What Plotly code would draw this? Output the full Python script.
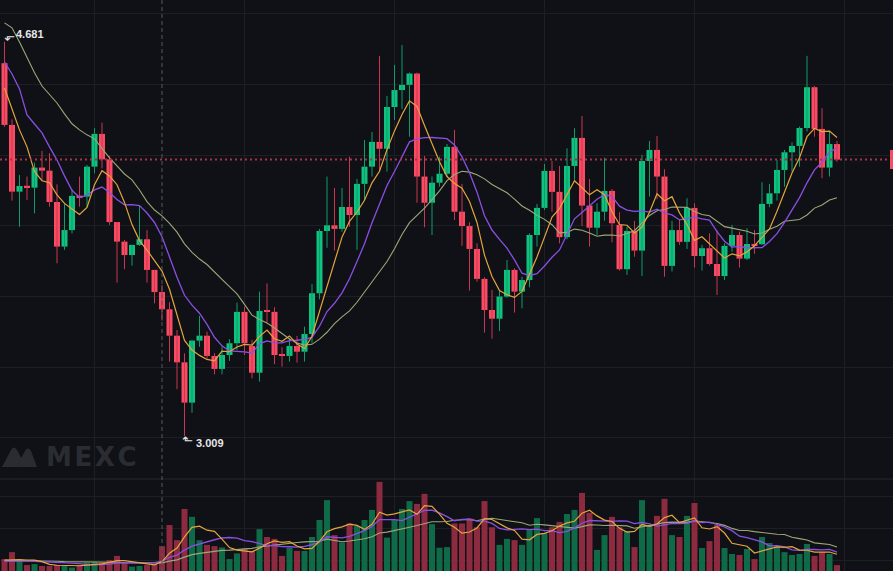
import numpy as np
import pandas as pd
import plotly.graph_objects as go

# ---------------- data ----------------
opens = [4.590, 4.328, 4.045, 4.070, 4.062, 4.147, 4.134, 4.001, 3.812, 3.882,
         4.028, 4.024, 4.151, 4.290, 4.182, 3.916, 3.833, 3.776, 3.819, 3.843,
         3.713, 3.619, 3.546, 3.434, 3.321, 3.150, 3.413, 3.434, 3.348, 3.293,
         3.352, 3.402, 3.535, 3.390, 3.277, 3.541, 3.535, 3.352, 3.348, 3.390,
         3.366, 3.441, 3.614, 3.878, 3.902, 3.887, 3.980, 3.946, 4.078, 4.151,
         4.256, 4.227, 4.404, 4.476, 4.498, 4.546, 4.109, 3.998, 4.083, 4.121,
         4.235, 3.960, 3.899, 3.802, 3.675, 3.543, 3.506, 3.600, 3.713, 3.621,
         3.670, 3.861, 3.976, 4.133, 4.044, 3.852, 4.154, 4.273, 3.986, 3.892,
         3.960, 4.048, 3.904, 3.716, 3.878, 3.795, 4.175, 4.222, 4.109, 3.730,
         3.882, 3.832, 3.976, 3.772, 3.805, 3.738, 3.687, 3.815, 3.861, 3.761,
         3.823, 3.822, 3.993, 4.038, 4.137, 4.212, 4.239, 4.315, 4.488, 4.311,
         4.147, 4.247]
highs = [4.681, 4.352, 4.116, 4.109, 4.168, 4.218, 4.208, 4.076, 3.993, 4.055,
         4.109, 4.158, 4.314, 4.338, 4.196, 3.916, 3.840, 3.820, 3.987, 3.882,
         3.713, 3.649, 3.576, 3.458, 3.359, 3.416, 3.518, 3.451, 3.360, 3.387,
         3.419, 3.574, 3.557, 3.416, 3.621, 3.656, 3.555, 3.385, 3.423, 3.433,
         3.472, 3.653, 3.887, 4.109, 4.061, 4.061, 4.193, 4.099, 4.264, 4.298,
         4.621, 4.451, 4.583, 4.667, 4.550, 4.550, 4.196, 4.109, 4.193, 4.247,
         4.307, 4.078, 3.915, 3.826, 3.682, 3.628, 3.625, 3.755, 3.720, 3.684,
         3.868, 3.993, 4.162, 4.175, 4.154, 4.229, 4.314, 4.366, 4.099, 3.996,
         4.189, 4.056, 3.958, 3.896, 3.921, 4.201, 4.260, 4.281, 4.140, 3.921,
         3.928, 4.017, 3.996, 3.819, 3.868, 3.882, 3.826, 3.904, 3.875, 3.890,
         3.882, 4.085, 4.078, 4.179, 4.222, 4.254, 4.321, 4.621, 4.493, 4.399,
         4.300, 4.260]
lows = [4.320, 4.007, 3.896, 4.010, 3.953, 4.092, 3.981, 3.741, 3.798, 3.868,
        3.981, 3.981, 4.123, 4.144, 3.904, 3.659, 3.716, 3.731, 3.815, 3.659,
        3.571, 3.498, 3.324, 3.207, 3.009, 3.107, 3.387, 3.338, 3.270, 3.270,
        3.327, 3.373, 3.352, 3.253, 3.239, 3.492, 3.313, 3.303, 3.324, 3.320,
        3.324, 3.402, 3.588, 3.807, 3.795, 3.875, 3.896, 3.798, 4.010, 4.109,
        4.137, 4.130, 4.349, 4.396, 4.278, 3.998, 3.894, 3.861, 4.066, 4.109,
        3.925, 3.815, 3.625, 3.663, 3.447, 3.421, 3.454, 3.595, 3.532, 3.550,
        3.639, 3.812, 3.967, 3.960, 3.826, 3.843, 4.095, 3.899, 3.812, 3.861,
        3.922, 3.830, 3.710, 3.692, 3.769, 3.687, 4.024, 4.013, 3.684, 3.706,
        3.819, 3.802, 3.723, 3.710, 3.731, 3.607, 3.670, 3.790, 3.723, 3.755,
        3.781, 3.819, 3.979, 4.007, 4.066, 4.130, 4.151, 4.300, 4.278, 4.102,
        4.109, 4.172]
closes = [4.328, 4.045, 4.069, 4.062, 4.147, 4.134, 4.001, 3.812, 3.882, 4.027,
          4.020, 4.151, 4.290, 4.182, 3.916, 3.833, 3.776, 3.819, 3.843, 3.713,
          3.619, 3.546, 3.434, 3.321, 3.150, 3.413, 3.434, 3.348, 3.293, 3.352,
          3.402, 3.535, 3.402, 3.277, 3.539, 3.535, 3.352, 3.348, 3.390, 3.366,
          3.441, 3.614, 3.878, 3.902, 3.887, 3.980, 3.946, 4.078, 4.151, 4.256,
          4.227, 4.404, 4.476, 4.498, 4.546, 4.109, 3.998, 4.083, 4.121, 4.235,
          3.960, 3.899, 3.802, 3.675, 3.543, 3.506, 3.600, 3.713, 3.621, 3.670,
          3.861, 3.976, 4.133, 4.044, 3.852, 4.154, 4.273, 3.986, 3.892, 3.960,
          4.048, 3.911, 3.716, 3.878, 3.795, 4.175, 4.222, 4.109, 3.730, 3.882,
          3.832, 3.976, 3.772, 3.805, 3.738, 3.687, 3.815, 3.861, 3.761, 3.823,
          3.818, 3.993, 4.038, 4.137, 4.212, 4.239, 4.315, 4.488, 4.311, 4.147,
          4.247, 4.181]
volumes = [103, 125, 98, 84, 87, 81, 81, 84, 84, 76,
           84, 92, 94, 92, 100, 113, 92, 79, 81, 84,
           87, 144, 211, 163, 262, 237, 163, 148, 144, 140,
           103, 121, 137, 129, 198, 173, 167, 113, 139, 129,
           129, 173, 227, 290, 179, 156, 216, 208, 227, 259,
           348, 171, 227, 262, 287, 278, 310, 214, 139, 141,
           216, 216, 232, 204, 287, 204, 148, 167, 163, 148,
           195, 233, 185, 204, 221, 246, 259, 313, 250, 132,
           179, 237, 204, 192, 141, 290, 208, 240, 294, 179,
           173, 240, 281, 138, 160, 211, 138, 119, 116, 135,
           103, 173, 154, 144, 125, 116, 119, 151, 113, 125,
           119, 84]

# moving-average values before enough history is on screen
ma5_head = [4.485, 4.392, 4.307, 4.235]
ma10_head = [4.595, 4.544, 4.481, 4.370, 4.332, 4.294, 4.235, 4.179, 4.112]
ma20_head = [4.761, 4.740, 4.680, 4.616, 4.549, 4.493, 4.455, 4.421, 4.375, 4.333,
             4.307, 4.286, 4.269, 4.226, 4.188, 4.154, 4.120, 4.095, 4.052]
vma5_head = [100, 101, 101, 100]
vma10_head = [96, 97, 98, 97, 96, 95, 95, 94, 93]
vma20_head = [98, 98, 97, 97, 97, 96, 96, 96, 95, 95, 95, 94, 94, 93, 93, 93, 92, 92, 91]

last_price = 4.181
high_label = "4.681"
low_label = "3.009"
high_idx, low_idx = 0, 24
cross_idx = 21

# ---------------- derived ----------------
n = len(closes)
idx = np.arange(n)
o = np.array(opens); h = np.array(highs); l = np.array(lows); c = np.array(closes)
up = c >= o


def ma(series, w, head):
    s = pd.Series(series, dtype=float).rolling(w).mean().to_numpy()
    s[:len(head)] = head
    return s


ma5 = ma(closes, 5, ma5_head)
ma10 = ma(closes, 10, ma10_head)
ma20 = ma(closes, 20, ma20_head)
vma5 = ma(volumes, 5, vma5_head)
vma10 = ma(volumes, 10, vma10_head)
vma20 = ma(volumes, 20, vma20_head)

# ---------------- style ----------------
W, H = 893, 571
BG = "#101116"
GRID = "#1d1f25"
GREEN = "#0fc27f"
RED = "#fb4a64"
GREEN_W = "#0d9d69"
RED_W = "#c8384f"
VGREEN = "#0f6a47"
VRED = "#8c2b40"
C_MA5 = "#e4a53d"
C_MA10 = "#8a4fe3"
C_MA20 = "#9aa877"

sep_frac = 92 / H  # volume pane height

fig = go.Figure()

# wicks
for mask, col in ((up, GREEN_W), (~up, RED_W)):
    xs, ys = [], []
    for i in idx[mask]:
        xs += [i, i, None]
        ys += [l[i], h[i], None]
    fig.add_trace(go.Scatter(x=xs, y=ys, mode="lines", line=dict(color=col, width=1),
                             hoverinfo="skip", showlegend=False, xaxis="x", yaxis="y"))

# bodies
body_base = np.minimum(o, c)
body_h = np.maximum(np.abs(c - o), 0.005)
fig.add_trace(go.Bar(x=idx, y=body_h, base=body_base, width=0.8,
                     marker=dict(color=[GREEN if u else RED for u in up], line=dict(width=0)),
                     showlegend=False, xaxis="x", yaxis="y"))

# price MAs
for s, col, w in ((ma20, C_MA20, 1.1), (ma10, C_MA10, 1.3), (ma5, C_MA5, 1.2)):
    fig.add_trace(go.Scatter(x=idx, y=s, mode="lines", line=dict(color=col, width=w),
                             showlegend=False, xaxis="x", yaxis="y"))

# volume
fig.add_trace(go.Bar(x=idx, y=volumes, width=0.8,
                     marker=dict(color=[VGREEN if u else VRED for u in up], line=dict(width=0)),
                     showlegend=False, xaxis="x2", yaxis="y2"))
for s, col, w in ((vma20, C_MA20, 1.1), (vma10, C_MA10, 1.3), (vma5, C_MA5, 1.2)):
    fig.add_trace(go.Scatter(x=idx, y=s, mode="lines", line=dict(color=col, width=w),
                             showlegend=False, xaxis="x2", yaxis="y2"))

xr = [-0.6, -0.6 + W / 7.5]
axis_common = dict(showticklabels=False, zeroline=False, showline=False,
                   gridcolor=GRID, gridwidth=1, ticks="")

fig.update_layout(
    width=W, height=H,
    margin=dict(l=0, r=0, t=0, b=0),
    paper_bgcolor=BG, plot_bgcolor=BG,
    barmode="overlay", showlegend=False,
    xaxis=dict(domain=[0, 1], range=xr, tick0=12, dtick=20, anchor="y", **axis_common),
    xaxis2=dict(domain=[0, 1], range=xr, tick0=12, dtick=20, anchor="y2", matches="x", **axis_common),
    yaxis=dict(domain=[sep_frac, 1], range=[2.826, 4.858], tick0=3.0, dtick=0.3, anchor="x", **axis_common),
    yaxis2=dict(domain=[0, sep_frac], range=[65.1, 357.1], tick0=0, dtick=100, anchor="x2", **axis_common),
)

shapes = []
# pane separator
shapes.append(dict(type="line", xref="paper", yref="paper", x0=0, x1=1, y0=sep_frac, y1=sep_frac,
                   line=dict(color="#26282e", width=1), layer="above"))
# current price dotted line
shapes.append(dict(type="line", xref="paper", yref="y", x0=0, x1=1, y0=last_price, y1=last_price,
                   line=dict(color="#a83349", width=2, dash="2px,3px"), layer="above"))
# crosshair vertical dashed
shapes.append(dict(type="line", xref="x", yref="paper", x0=cross_idx, x1=cross_idx, y0=0, y1=1,
                   line=dict(color="#55585f", width=1, dash="4px,3px"), layer="above"))
# right edge price tag (cut off)
shapes.append(dict(type="rect", xref="paper", yref="y", x0=890 / W, x1=1.0, y0=4.141, y1=4.222,
                   fillcolor=RED, line=dict(width=0), layer="above"))


# MEXC watermark logo
def P(x, y):
    return f"{x / W:.5f},{1 - y / H:.5f}"


logo_col = "#2a2c32"
left_peak = f"M{P(2, 467)} L{P(11, 450)} Q{P(14, 445)} {P(17, 450)} L{P(26, 467)} Z"
right_peak = f"M{P(16, 467)} L{P(25, 451)} Q{P(28, 446)} {P(31, 451)} L{P(37, 467)} Z"
for p in (left_peak, right_peak):
    shapes.append(dict(type="path", xref="paper", yref="paper", path=p,
                       fillcolor=logo_col, line=dict(width=0), layer="below"))
fig.update_layout(shapes=shapes)

ann_font = dict(family="Liberation Sans, Arial, sans-serif", size=11, color="#e6e6e6", weight="bold")
glyph_font = dict(family="DejaVu Sans", size=13, color="#e6e6e6")
fig.add_annotation(x=high_idx, y=highs[high_idx], xref="x", yref="y", text=high_label,
                   showarrow=False, xanchor="left", yanchor="middle", xshift=9, yshift=8, font=ann_font)
fig.add_annotation(x=high_idx, y=highs[high_idx], xref="x", yref="y", text="⬐",
                   showarrow=False, xanchor="left", yanchor="middle", xshift=-3, yshift=5,
                   font=glyph_font)
fig.add_annotation(x=low_idx, y=lows[low_idx], xref="x", yref="y", text=low_label,
                   showarrow=False, xanchor="left", yanchor="middle", xshift=9, yshift=-7, font=ann_font)
fig.add_annotation(x=low_idx, y=lows[low_idx], xref="x", yref="y", text="⬑",
                   showarrow=False, xanchor="left", yanchor="middle", xshift=-5, yshift=-5,
                   font=glyph_font)
fig.add_annotation(x=44 / W, y=1 - 457 / H, xref="paper", yref="paper",
                   text="M\u200aE\u200aX\u200aC", showarrow=False,
                   xanchor="left", yanchor="middle",
                   font=dict(family="DejaVu Sans", size=26, color=logo_col, weight="bold"))

fig.write_html("out.html")
